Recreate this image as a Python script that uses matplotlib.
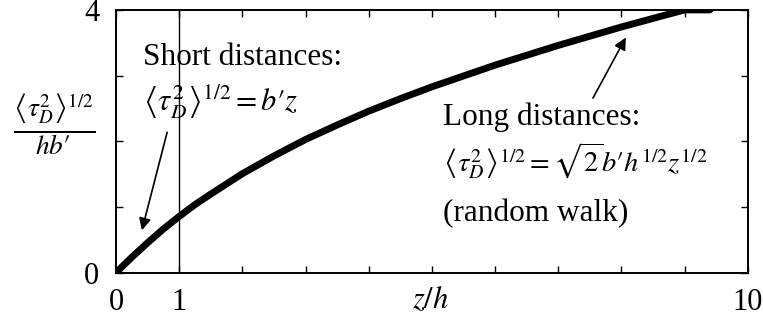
import matplotlib.pyplot as plt

plt.rcParams['font.family'] = ['Liberation Serif', 'DejaVu Serif']
plt.rcParams['mathtext.fontset'] = 'stix'

# rms deflection vs distance
z_h = [0, 0.1, 0.25, 0.5, 0.75, 1, 1.25, 1.5, 2, 2.5, 3, 3.5, 4, 4.5, 5, 6, 7, 8, 9, 9.4]
tau = [0, 0.10, 0.24, 0.46, 0.67, 0.86, 1.04, 1.20, 1.51, 1.78, 2.03, 2.25, 2.46, 2.65,
       2.83, 3.16, 3.46, 3.74, 4.0, 4.0]

x_ticks = list(range(11))
x_labels = ['0', '1', '', '', '', '', '', '', '', '', '10']
y_ticks = [0, 1, 2, 3, 4]
y_labels = ['0', '', '', '', '4']

fig = plt.figure(figsize=(7.63, 3.29), dpi=100)
ax = fig.add_axes([0.152, 0.170, 0.828, 0.800])

ax.plot(z_h, tau, color='black', lw=5, solid_capstyle='round', clip_on=True)
ax.axvline(1, color='black', lw=1)

ax.set_xlim(0, 10)
ax.set_ylim(0, 4)
ax.set_xticks(x_ticks)
ax.set_xticklabels(x_labels)
ax.set_yticks(y_ticks)
ax.set_yticklabels(y_labels)
ax.tick_params(direction='in', length=5, width=1, top=True, right=True, labelsize=22)
ax.tick_params(axis='x', pad=11)
ax.tick_params(axis='y', pad=12)
for s in ax.spines.values():
    s.set_linewidth(1.4)

ax.set_xlabel(r'$z/h$', fontsize=22, va='center')
ax.xaxis.set_label_coords(0.498, -0.105)
ax.set_ylabel("$\\frac{\\left\\langle\\tau_D^2\\right\\rangle^{1/2}}{hb\u2032}$", fontsize=28,
              rotation=0, va='center', ha='center')
ax.yaxis.set_label_coords(-0.098, 0.565)

fs = 22.5
ax.text(0.43, 3.16, 'Short distances:', fontsize=fs, va='baseline')
ax.text(0.43, 2.47, "$\\left\\langle\\tau_D^2\\right\\rangle^{1/2}=b\u2032z$", fontsize=22,
        va='baseline')
ax.text(5.17, 2.25, 'Long distances:', fontsize=fs, va='baseline')
ax.text(5.17, 1.54, "$\\left\\langle\\tau_D^2\\right\\rangle^{1/2}=\\sqrt{2}b\u2032h^{1/2}z^{1/2}$",
        fontsize=20.5, va='baseline')
ax.text(5.17, 0.79, '(random walk)', fontsize=fs, va='baseline')

arrow = dict(arrowstyle='-|>', color='black', lw=1.2, mutation_scale=18, shrinkA=0, shrinkB=0)
ax.annotate('', xy=(0.41, 0.65), xytext=(0.81, 2.14), arrowprops=arrow)
ax.annotate('', xy=(8.07, 3.58), xytext=(7.55, 2.66), arrowprops=arrow)

fig.savefig('out.png', dpi=100)
